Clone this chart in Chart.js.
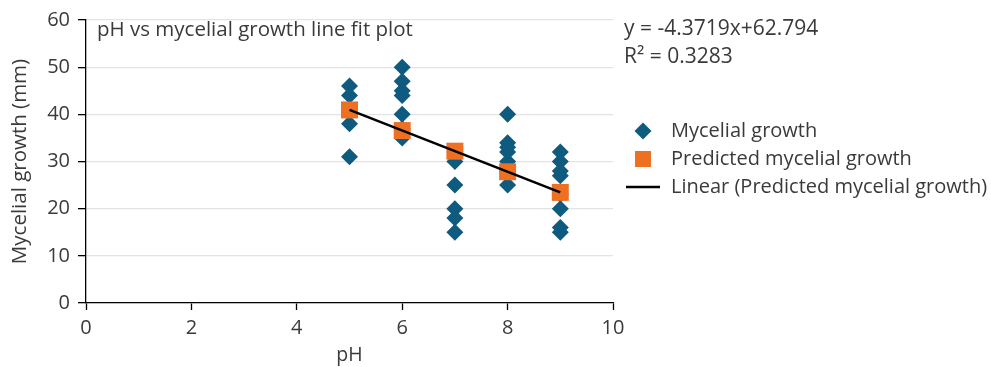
<!DOCTYPE html>
<html><head><meta charset="utf-8">
<script src="https://cdn.jsdelivr.net/npm/chart.js@4/dist/chart.umd.min.js"></script>
<style>html,body{margin:0;padding:0;background:#fff}#wrap{position:relative;width:991px;height:367px}</style>
</head><body><div id="wrap"><canvas id="c" width="991" height="367"></canvas></div>
<script>
// Data
const phMeasured = [5,5,5,5,5, 6,6,6,6,6,6,6, 7,7,7,7,7,7, 8,8,8,8,8,8,8, 9,9,9,9,9,9,9,9];
const growthMeasured = [46,44,41,38,31, 50,47,45,44,40,37,35, 32,30,25,20,18,15, 40,34,33,32,30,28,25, 32,30,28,27,23,20,16,15];
const phLevels = [5,6,7,8,9];
const growthPredicted = [40.93,36.56,32.19,27.82,23.45];
const xTicks = [0,2,4,6,8,10];
const yTicks = [0,10,20,30,40,50,60];
const seriesNames = ['Mycelial growth','Predicted mycelial growth','Linear (Predicted mycelial growth)'];
const plotTitle = 'pH vs mycelial growth line fit plot';
const equationLines = ['y = -4.3719x+62.794','R² = 0.3283'];

const FONT = "'Open Sans', 'Noto Sans', sans-serif";
const TXT = '#3a3a3a';
const BLUE = '#0f5a7f', ORANGE = '#ee7023';

const measured = phMeasured.map((x,i)=>({x, y: growthMeasured[i]}));
const predicted = phLevels.map((x,i)=>({x, y: growthPredicted[i]}));
const fitLine = [predicted[0], predicted[predicted.length-1]];

const overlay = {
  id:'overlay',
  afterDraw(chart){
    const ctx = chart.ctx, a = chart.chartArea;
    ctx.save();
    ctx.fillStyle = TXT;
    ctx.textBaseline = 'middle';
    ctx.textAlign = 'left';
    ctx.font = '20.5px ' + FONT;
    ctx.fillText(plotTitle, a.left + 11, 30);
    ctx.font = '21px ' + FONT;
    ctx.fillText(equationLines[0], 624, 29);
    ctx.fillText(equationLines[1], 624, 57);
    // legend
    const lx = 643, tx = 671, rows = [131,159,187];
    ctx.fillStyle = BLUE;
    ctx.beginPath(); ctx.moveTo(lx, rows[0]-8.5); ctx.lineTo(lx+8.5, rows[0]); ctx.lineTo(lx, rows[0]+8.5); ctx.lineTo(lx-8.5, rows[0]); ctx.closePath(); ctx.fill();
    ctx.fillStyle = ORANGE;
    ctx.fillRect(lx-8, rows[1]-8, 16, 16);
    ctx.strokeStyle = '#000'; ctx.lineWidth = 2.4;
    ctx.beginPath(); ctx.moveTo(lx-17, rows[2]); ctx.lineTo(lx+17, rows[2]); ctx.stroke();
    ctx.fillStyle = TXT;
    ctx.font = '20px ' + FONT;
    seriesNames.forEach((n,i)=>ctx.fillText(n, tx, rows[i]));
    ctx.restore();
  }
};

new Chart(document.getElementById('c'), {
  type:'scatter',
  data:{datasets:[
    {label:seriesNames[2], type:'line', data:fitLine, borderColor:'#000', borderWidth:2.5, pointRadius:0, fill:false, order:0},
    {label:seriesNames[1], data:predicted, pointStyle:'rect', pointRadius:12, pointHoverRadius:12, backgroundColor:ORANGE, borderColor:ORANGE, borderWidth:0, order:1},
    {label:seriesNames[0], data:measured, pointStyle:'rectRot', pointRadius:8.5, pointHoverRadius:8.5, backgroundColor:BLUE, borderColor:BLUE, borderWidth:0, order:2}
  ]},
  options:{
    responsive:false, animation:false,
    layout:{padding:{top:20,right:378,left:0,bottom:0}},
    plugins:{legend:{display:false}, tooltip:{enabled:false}},
    scales:{
      x:{type:'linear', min:0, max:10,
        afterFit(s){ s.height = 64; },
        afterBuildTicks(s){ s.ticks = xTicks.map(v=>({value:v})); },
        grid:{drawOnChartArea:false, drawTicks:true, tickLength:7, tickColor:'#000', tickWidth:1.3},
        border:{color:'#000', width:1.3},
        ticks:{color:TXT, font:{family:FONT, size:20}, padding:6, maxRotation:0},
        title:{display:true, text:'pH', color:TXT, font:{family:FONT, size:19.5}, padding:{top:0,bottom:0}}
      },
      y:{type:'linear', min:0, max:60,
        afterFit(s){ s.width = 86; },
        afterBuildTicks(s){ s.ticks = yTicks.map(v=>({value:v})); },
        grid:{color:'#e3e3e3', lineWidth:1.3, drawTicks:true, tickLength:8, tickColor:'#000', tickWidth:1.3},
        border:{color:'#000', width:1.3},
        ticks:{color:TXT, font:{family:FONT, size:20}, padding:8},
        title:{display:true, text:'Mycelial growth (mm)', color:TXT, font:{family:FONT, size:20.5}, padding:{top:8,bottom:0}}
      }
    }
  },
  plugins:[overlay]
});
</script></body></html>
